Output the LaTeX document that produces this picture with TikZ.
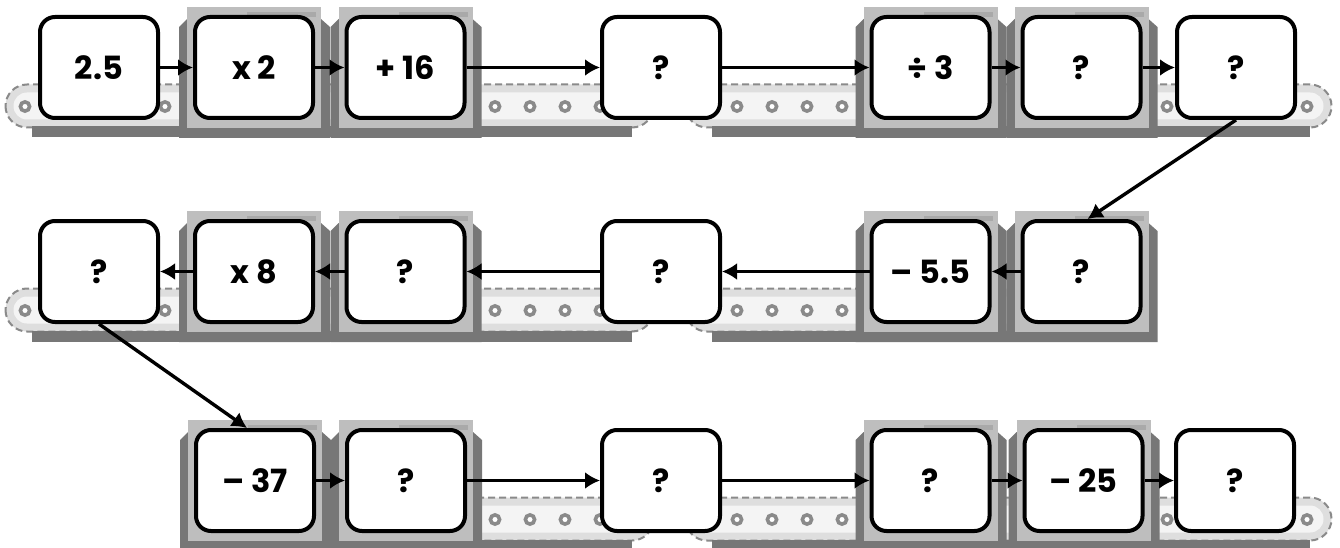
\documentclass[tikz,border=0pt]{standalone}
\usepackage{fontspec}
\setmainfont{Poppins}
\usetikzlibrary{arrows.meta}

\definecolor{beltlight}{HTML}{DEDEDE}
\definecolor{beltinner}{HTML}{F4F4F4}
\definecolor{rail}{HTML}{8A8A8A}
\definecolor{machdark}{HTML}{777777}
\definecolor{machface}{HTML}{BEBEBE}
\definecolor{machbar}{HTML}{A9A9A9}

% conveyor belt: #1 left end centre x, #2 right end centre x, #3 row centre y
\newcommand\conveyor[3]{%
  \fill[beltlight, rounded corners=21.5pt] (#1-21.5,#3+17) rectangle (#2+21.5,#3+60);
  \fill[beltinner, rounded corners=13.5pt] (#1-13.5,#3+25) rectangle (#2+13.5,#3+52);
  \draw[rail, line width=2pt, dash pattern=on 7pt off 4pt, rounded corners=21.5pt]
    (#1-21.5,#3+17) rectangle (#2+21.5,#3+60);
  \fill[machdark] (#1+5,#3+59) rectangle (#2,#3+70);
}
% rollers of a belt: #1 list of x positions, #2 row centre y
\newcommand\rollers[2]{%
  \foreach \rx in {#1} {\draw[rail, line width=3.6pt, fill=white] (\rx,#2+39) circle (4.6pt);}
}
% machine housing behind a box centred at #1, row centre #2
\newcommand\machine[2]{%
  \fill[machdark] (#1-75,#2-40.5) -- (#1-67,#2-48.5) -- (#1+67,#2-48.5) -- (#1+76,#2-40.5)
    -- (#1+76,#2+70.5) -- (#1-75,#2+70.5) -- cycle;
  \fill[machface] (#1-67,#2-60.5) rectangle (#1+67,#2+60.5);
  \fill[machbar] (#1-7,#2-55.5) rectangle (#1+62,#2-50.5);
}

\begin{document}
\begin{tikzpicture}[x=1pt,y=-1pt,
  opbox/.style={draw=black, line width=4pt, rounded corners=15pt, fill=white,
    minimum width=118pt, minimum height=101pt, inner sep=0pt,
    font=\fontsize{32}{32}\selectfont\bfseries},
  flow/.style={line width=3.4pt, -{Latex[length=15pt,width=17pt]}}]
\useasboundingbox (0,0) rectangle (1340,548);

% belts
\conveyor{27}{632}{67.5}
\conveyor{707}{1310}{67.5}
\conveyor{27}{632}{271.5}
\conveyor{707}{1130}{271.5}
\conveyor{210}{632}{480.5}
\conveyor{707}{1310}{480.5}
\rollers{25,60,95,130,165,495,530,565,600,635}{67.5}
\rollers{707,737,772,807,842,1167,1202,1237,1272,1307}{67.5}
\rollers{25,60,95,130,165,495,530,565,600,635}{271.5}
\rollers{707,737,772,807,842}{271.5}
\rollers{495,530,565,600,635}{480.5}
\rollers{707,737,772,807,842,1167,1202,1237,1272,1307}{480.5}

% machines
\machine{254}{67.5}\machine{405.5}{67.5}
\machine{930.5}{67.5}\machine{1081.5}{67.5}
\machine{254}{271.5}\machine{405.5}{271.5}
\machine{930.5}{271.5}\machine{1081.5}{271.5}
\machine{255}{480.5}\machine{406}{480.5}
\machine{930.5}{480.5}\machine{1083.5}{480.5}

% row 1
\node[opbox] (a1) at (99,67.5) {2.5};
\node[opbox] (a2) at (254,67.5) {x 2};
\node[opbox] (a3) at (405.5,67.5) {+ 16};
\node[opbox] (a4) at (661,67.5) {?};
\node[opbox] (a5) at (930.5,67.5) {÷ 3};
\node[opbox] (a6) at (1081.5,67.5) {?};
\node[opbox] (a7) at (1236,67.5) {?};
% row 2
\node[opbox] (b1) at (99,271.5) {?};
\node[opbox] (b2) at (254,271.5) {x 8};
\node[opbox] (b3) at (405.5,271.5) {?};
\node[opbox] (b4) at (661,271.5) {?};
\node[opbox] (b5) at (930.5,271.5) {– 5.5};
\node[opbox] (b6) at (1081.5,271.5) {?};
% row 3
\node[opbox] (c2) at (255,480.5) {– 37};
\node[opbox] (c3) at (406,480.5) {?};
\node[opbox] (c4) at (661,480.5) {?};
\node[opbox] (c5) at (930.5,480.5) {?};
\node[opbox] (c6) at (1083.5,480.5) {– 25};
\node[opbox] (c7) at (1235,480.5) {?};

% connectors
\draw[flow] (a1.east) -- (a2.west);
\draw[flow] (a2.east) -- (a3.west);
\draw[flow] (a3.east) -- (a4.west);
\draw[flow] (a4.east) -- (a5.west);
\draw[flow] (a5.east) -- (a6.west);
\draw[flow] (a6.east) -- (a7.west);
\draw[flow] (a7.south) -- ([xshift=6pt]b6.north);
\draw[flow] (b6.west) -- (b5.east);
\draw[flow] (b5.west) -- (b4.east);
\draw[flow] (b4.west) -- (b3.east);
\draw[flow] (b3.west) -- (b2.east);
\draw[flow] (b2.west) -- (b1.east);
\draw[flow] (b1.south) -- ([xshift=-8pt]c2.north);
\draw[flow] (c2.east) -- (c3.west);
\draw[flow] (c3.east) -- (c4.west);
\draw[flow] (c4.east) -- (c5.west);
\draw[flow] (c5.east) -- (c6.west);
\draw[flow] (c6.east) -- (c7.west);
\end{tikzpicture}
\end{document}
